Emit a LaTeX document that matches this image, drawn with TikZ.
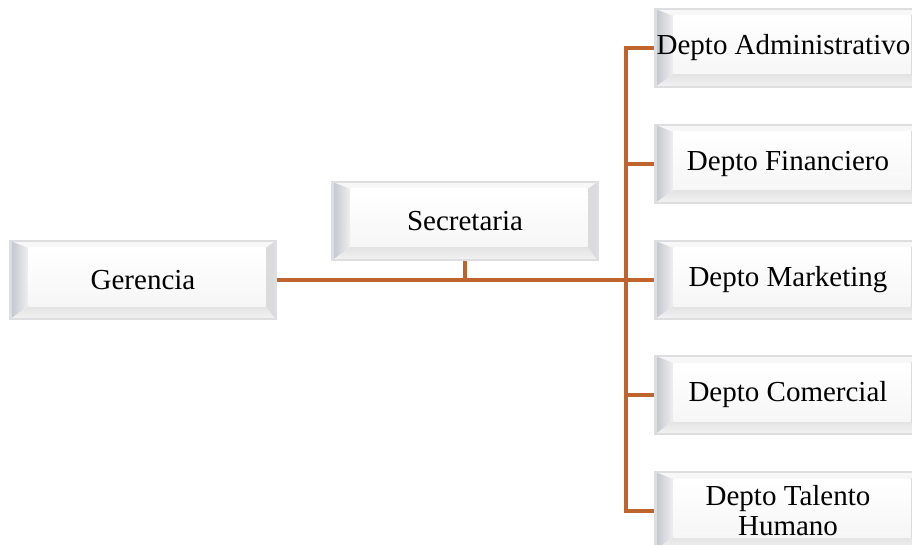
\documentclass[tikz,border=0pt]{standalone}
\usepackage{fontspec}
\setmainfont{Liberation Serif}
\definecolor{conn}{RGB}{192,100,45}
\definecolor{bordergray}{RGB}{222,222,224}
\definecolor{bevelgray}{RGB}{196,196,206}
\newcommand{\boxfont}{\fontsize{29}{30}\selectfont}
\tikzset{
  bevelbox/.style={minimum width=265pt, minimum height=78pt, inner sep=0pt, align=center,
    font=\boxfont, draw=bordergray, line width=2.5pt,
    path picture={
      \path (path picture bounding box.north west) coordinate (pnw)
            (path picture bounding box.north east) coordinate (pne)
            (path picture bounding box.south west) coordinate (psw)
            (path picture bounding box.south east) coordinate (pse);
      \path ([xshift=18pt,yshift=-7pt]pnw) coordinate (qnw)
            ([xshift=-10pt,yshift=-7pt]pne) coordinate (qne)
            ([xshift=18pt,yshift=13pt]psw) coordinate (qsw)
            ([xshift=-10pt,yshift=13pt]pse) coordinate (qse);
      \fill[gray!6] (pnw) -- (pne) -- (qne) -- (qnw) -- cycle;
      \shade[left color=bevelgray, right color=gray!12] (pnw) -- (qnw) -- (qsw) -- (psw) -- cycle;
      \shade[top color=gray!22, bottom color=gray!10] (psw) -- (qsw) -- (qse) -- (pse) -- cycle;
      \fill[gray!28] (pne) -- (pse) -- (qse) -- (qne) -- cycle;
      \shade[top color=white, bottom color=gray!7] (qnw) rectangle (qse);
    }},
  link/.style={draw=conn, line width=3.2pt}
}
\begin{document}
\begin{tikzpicture}[x=1pt,y=-1pt]
\useasboundingbox (0,0) rectangle (912,545);
\node[bevelbox] (ger) at (143,280) {Gerencia};
\node[bevelbox] (sec) at (465,221) {Secretaria};
\node[bevelbox] (adm) at (788,48) {\hspace*{-9pt}Depto Administrativo};
\node[bevelbox] (fin) at (788,164) {Depto Financiero};
\node[bevelbox] (mkt) at (788,280) {Depto Marketing};
\node[bevelbox] (com) at (788,395) {Depto Comercial};
\node[bevelbox] (tal) at (788,511) {Depto Talento\\Humano};
\coordinate (bus) at (626,280);
\draw[link] (ger.east) -- (bus);
\draw[link] (sec.south) -- (sec.south |- ger.east);
\draw[link] (bus) |- (adm.west);
\draw[link] (bus) |- (fin.west);
\draw[link] (bus) -- (mkt.west);
\draw[link] (bus) |- (com.west);
\draw[link] (bus) |- (tal.west);
\end{tikzpicture}
\end{document}
